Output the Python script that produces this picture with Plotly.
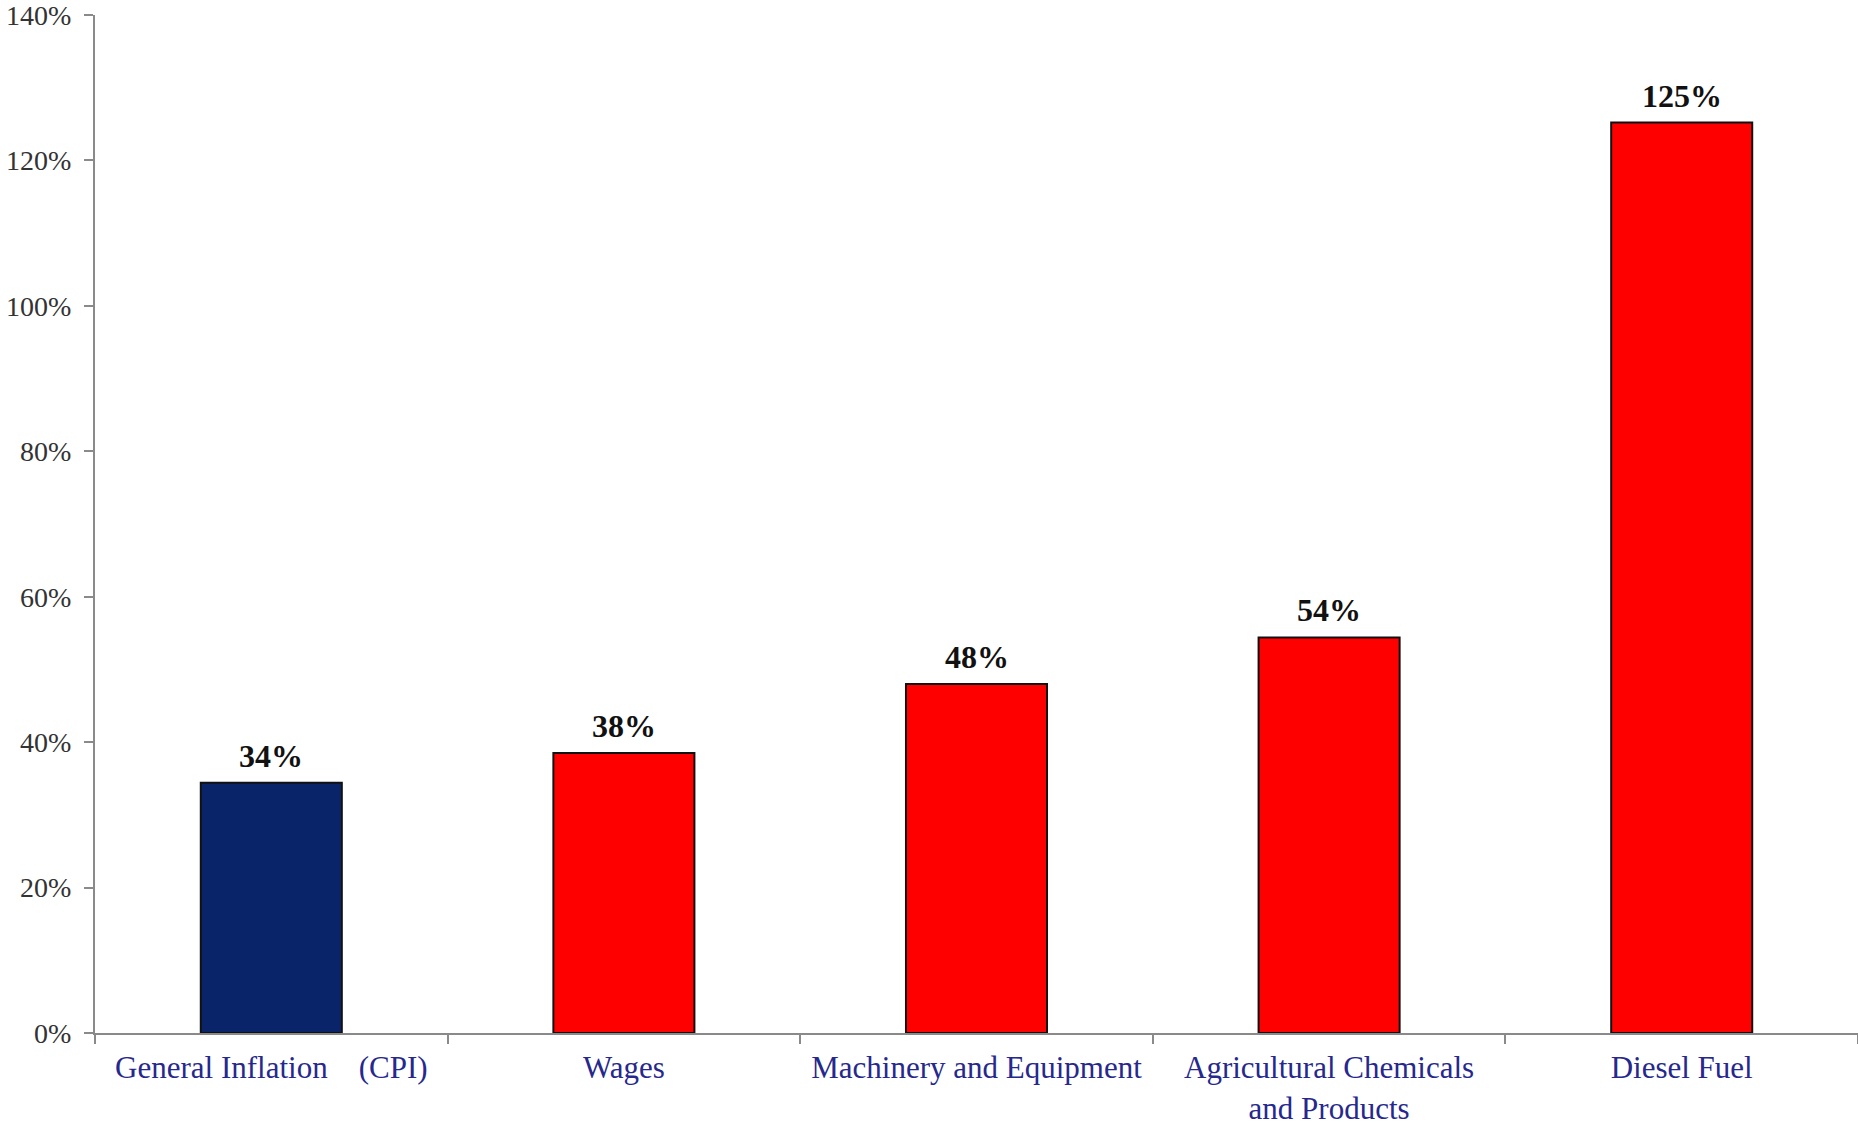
import plotly.graph_objects as go

categories = ["General Inflation\u00a0\u00a0\u00a0\u00a0(CPI)", "Wages", "Machinery and Equipment",
              "Agricultural Chemicals<br>and Products", "Diesel Fuel"]
values = [34.4, 38.5, 48.0, 54.4, 125.2]
labels = ["34%", "38%", "48%", "54%", "125%"]
bar_colors = ["#0A2469", "#FF0000", "#FF0000", "#FF0000", "#FF0000"]
y_ticks = [0, 20, 40, 60, 80, 100, 120, 140]
y_tick_text = [f"{v}%" for v in y_ticks]

fig = go.Figure(go.Bar(
    x=categories, y=values,
    marker=dict(color=bar_colors, line=dict(color="#111111", width=2)),
    width=0.4,
))

for c, v, t in zip(categories, values, labels):
    fig.add_annotation(x=c, y=v, text=t, showarrow=False, yanchor="bottom", yshift=7,
                       font=dict(family="Liberation Serif", size=32, color="#111111", weight="bold"))

fig.update_layout(
    width=1858, height=1126,
    margin=dict(l=95, r=0, t=15, b=89),
    plot_bgcolor="white", paper_bgcolor="white",
    showlegend=False,
    font=dict(family="Liberation Serif"),
)
fig.update_xaxes(
    showline=True, linecolor="#8a8a8a", linewidth=2,
    ticks="outside", tickson="boundaries", ticklen=9, tickcolor="#8a8a8a", tickwidth=2,
    tickfont=dict(family="Liberation Serif", size=31, color="#26288E"),
    showgrid=False, ticklabelstandoff=6,
)
fig.update_yaxes(
    range=[0, 140], tickvals=y_ticks, ticktext=y_tick_text,
    showline=True, linecolor="#8a8a8a", linewidth=2,
    ticks="outside", ticklen=9, tickcolor="#8a8a8a", tickwidth=2,
    tickfont=dict(family="Liberation Serif", size=28, color="#333333"),
    showgrid=False, zeroline=False, ticklabelstandoff=7,
    ticklabeloverflow="allow",
)

fig.write_html("out.html")
